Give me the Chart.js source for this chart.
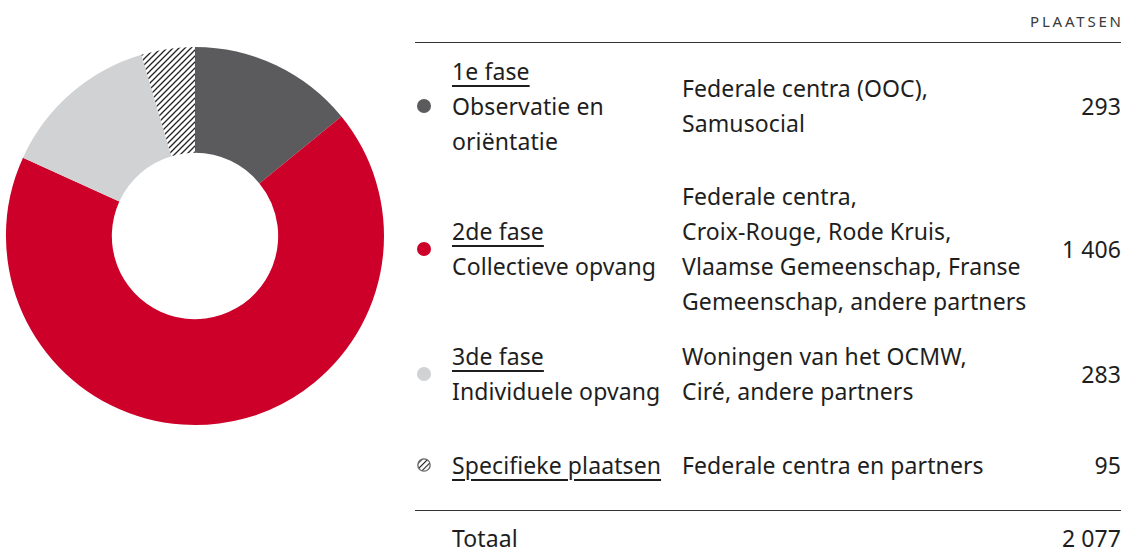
<!DOCTYPE html>
<html>
<head>
<meta charset="utf-8">
<script src="https://cdn.jsdelivr.net/npm/chart.js@4/dist/chart.umd.min.js"></script>
<style>
  html, body { margin:0; padding:0; background:#fff; }
  body { width:1136px; height:549px; position:relative; overflow:hidden;
         font-family:"Noto Sans", sans-serif; color:#1e1e1e; }
  #chartBox { position:absolute; left:0; top:41px; width:390px; height:390px; }
  .hdr { position:absolute; right:15px; top:11px; font-size:15px; letter-spacing:2.8px; margin-right:-2.8px; color:#3a3a3a; }
  .rule { position:absolute; left:415px; width:706px; height:1px; background:#333; }
  .row { position:absolute; left:415px; width:706px; display:flex; align-items:center; font-size:23px; line-height:35px; letter-spacing:0.1px; }
  .bul { position:absolute; left:2px; width:14px; height:14px; border-radius:50%; }
  .c1 { position:absolute; left:37px; white-space:nowrap; }
  .c2 { position:absolute; left:267px; white-space:nowrap; }
  .c3 { position:absolute; right:0; text-align:right; }
  .u { text-decoration:underline; text-underline-offset:5px; text-decoration-thickness:1.6px; }
</style>
</head>
<body>
<div id="chartBox"><canvas id="c"></canvas></div>
<div class="hdr">PLAATSEN</div>
<div class="rule" style="top:42px"></div>
<div class="rule" style="top:510px"></div>
<div id="rows"></div>
<script>
const categories = ["1e fase", "2de fase", "3de fase", "Specifieke plaatsen"];
const subtitles = ["Observatie en<br>oriëntatie", "Collectieve opvang", "Individuele opvang", ""];
const partners = [
  "Federale centra (OOC),<br>Samusocial",
  "Federale centra,<br>Croix-Rouge, Rode Kruis,<br>Vlaamse Gemeenschap, Franse<br>Gemeenschap, andere partners",
  "Woningen van het OCMW,<br>Ciré, andere partners",
  "Federale centra en partners"
];
const plaatsen = [293, 1406, 283, 95];
const totaalLabel = "Totaal";
const colors = ["#5b5b5d", "#cd0029", "#d1d2d4", "hatch"];

function fmt(n){ return String(n).replace(/\B(?=(\d{3})+(?!\d))/g, " "); }

// hatch pattern
const pc = document.createElement("canvas");
pc.width = 6; pc.height = 6;
const px = pc.getContext("2d");
px.fillStyle = "#fff"; px.fillRect(0,0,6,6);
px.strokeStyle = "#222"; px.lineWidth = 1.3;
px.beginPath();
px.moveTo(-1,7); px.lineTo(7,-1);
px.moveTo(-4,4); px.lineTo(4,-4);
px.moveTo(2,10); px.lineTo(10,2);
px.stroke();
const ctx = document.getElementById("c").getContext("2d");
const hatch = ctx.createPattern(pc, "repeat");

new Chart(ctx, {
  type: "doughnut",
  data: {
    labels: categories,
    datasets: [{
      data: plaatsen,
      backgroundColor: colors.map(c => c === "hatch" ? hatch : c),
      borderWidth: 0,
      hoverOffset: 0
    }]
  },
  options: {
    responsive: true,
    maintainAspectRatio: false,
    animation: false,
    cutout: "44%",
    layout: { padding: 6 },
    plugins: { legend: { display:false }, tooltip: { enabled:false } }
  }
});

// table rows
const rowGeom = [[46,120],[174,150],[334,80],[445,40]];
const rowsEl = document.getElementById("rows");
const hatchSvg = '<svg width="14" height="14" viewBox="0 0 14 14" style="position:absolute;left:0;top:0"><defs><pattern id="hp" width="4" height="4" patternUnits="userSpaceOnUse" patternTransform="rotate(45)"><rect width="4" height="4" fill="#fff"/><line x1="0" y1="0" x2="0" y2="4" stroke="#222" stroke-width="2.2"/></pattern></defs><circle cx="7" cy="7" r="6.2" fill="url(#hp)" stroke="#666" stroke-width="1.3"/></svg>';
categories.forEach((cat, i) => {
  const r = document.createElement("div");
  r.className = "row";
  r.style.top = rowGeom[i][0] + "px";
  r.style.height = rowGeom[i][1] + "px";
  const bul = colors[i] === "hatch"
    ? '<span class="bul" style="top:calc(50% - 7px)">' + hatchSvg + '</span>'
    : '<span class="bul" style="top:calc(50% - 7px);background:' + colors[i] + '"></span>';
  const c1 = '<span class="u">' + cat + '</span>' + (subtitles[i] ? '<br>' + subtitles[i] : '');
  r.innerHTML = bul + '<div class="c1">' + c1 + '</div><div class="c2">' + partners[i] + '</div><div class="c3">' + fmt(plaatsen[i]) + '</div>';
  rowsEl.appendChild(r);
});
const tot = document.createElement("div");
tot.className = "row";
tot.style.top = "518px"; tot.style.height = "40px";
tot.innerHTML = '<div class="c1">' + totaalLabel + '</div><div class="c3">' + fmt(plaatsen.reduce((a,b)=>a+b,0)) + '</div>';
rowsEl.appendChild(tot);
</script>
</body>
</html>
